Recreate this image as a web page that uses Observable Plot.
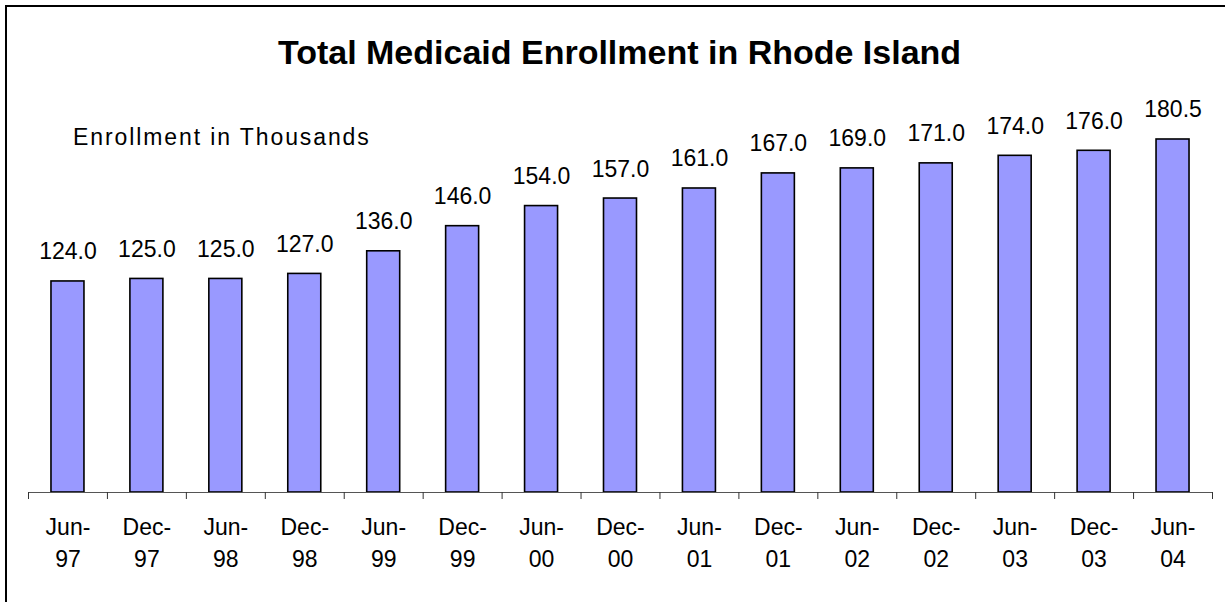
<!DOCTYPE html>
<html>
<head>
<meta charset="utf-8">
<script src="https://cdn.jsdelivr.net/npm/d3@7"></script>
<script src="https://cdn.jsdelivr.net/npm/@observablehq/plot@0.6"></script>
<style>
  html, body { margin: 0; padding: 0; background: #fff; overflow: hidden; }
  #wrap { position: relative; width: 1225px; height: 602px; overflow: hidden; font-family: "Liberation Sans", Arial, sans-serif; }
  #frame { position: absolute; left: 5px; top: 5px; width: 1400px; height: 800px; border-left: 2px solid #000; border-top: 2px solid #000; }
  #title { position: absolute; left: 619.5px; top: 35px; transform: translateX(-50%); white-space: nowrap; font-size: 34px; line-height: 34px; font-weight: bold; color: #000; }
  #subtitle { position: absolute; left: 73px; top: 125.5px; white-space: nowrap; font-size: 23px; line-height: 23px; letter-spacing: 1.9px; color: #000; }
  #chart { position: absolute; left: 0; top: 0; }
</style>
</head>
<body>
<div id="wrap">
  <div id="frame"></div>
  <div id="chart"></div>
  <div id="title">Total Medicaid Enrollment in Rhode Island</div>
  <div id="subtitle">Enrollment in Thousands</div>
</div>
<script>
const periods = ["Jun-97","Dec-97","Jun-98","Dec-98","Jun-99","Dec-99","Jun-00","Dec-00","Jun-01","Dec-01","Jun-02","Dec-02","Jun-03","Dec-03","Jun-04"];
const enrollment = [124.0,125.0,125.0,127.0,136.0,146.0,154.0,157.0,161.0,167.0,169.0,171.0,174.0,176.0,180.5];
const yDomain = [40, 200];

const data = periods.map((p, i) => ({period: p, value: enrollment[i]}));

const W = 1225, H = 602, ML = 28, MR = 13, MT = 90, MB = 110;
const step = (W - ML - MR) / periods.length;

const chart = Plot.plot({
  width: W,
  height: H,
  marginLeft: ML,
  marginRight: MR,
  marginTop: MT,
  marginBottom: MB,
  style: {fontFamily: "'Liberation Sans', Arial, sans-serif", fontSize: "23px", background: "transparent", color: "#000", overflow: "visible"},
  x: {domain: periods, paddingInner: 0.582, paddingOuter: 0.291, round: false, label: null, axis: null},
  y: {domain: yDomain, axis: null, label: null},
  marks: [
    Plot.barY(data, {x: "period", y1: yDomain[0], y2: "value", fill: "#9999FF", stroke: "#000", strokeWidth: 1.6}),
    Plot.ruleY([yDomain[0]], {stroke: "#555", strokeWidth: 1}),
    Plot.ruleX(periods, {x: d => d, y1: yDomain[0], y2: yDomain[0], insetBottom: -7, dx: -step / 2, stroke: "#333", strokeWidth: 1}),
    Plot.ruleX(periods.slice(-1), {x: d => d, y1: yDomain[0], y2: yDomain[0], insetBottom: -7, dx: step / 2, stroke: "#333", strokeWidth: 1}),
    Plot.axisX({tickSize: 0, tickPadding: 20, fontSize: 23, lineHeight: 1.39, label: null, tickFormat: d => d.replace("-", "-\n")}),
    Plot.text(data, {x: "period", y: "value", text: d => d3.format(".1f")(d.value), lineAnchor: "bottom", dy: -22, fontSize: 23, fill: "#000"})
  ]
});
document.getElementById("chart").appendChild(chart);
</script>
</body>
</html>
